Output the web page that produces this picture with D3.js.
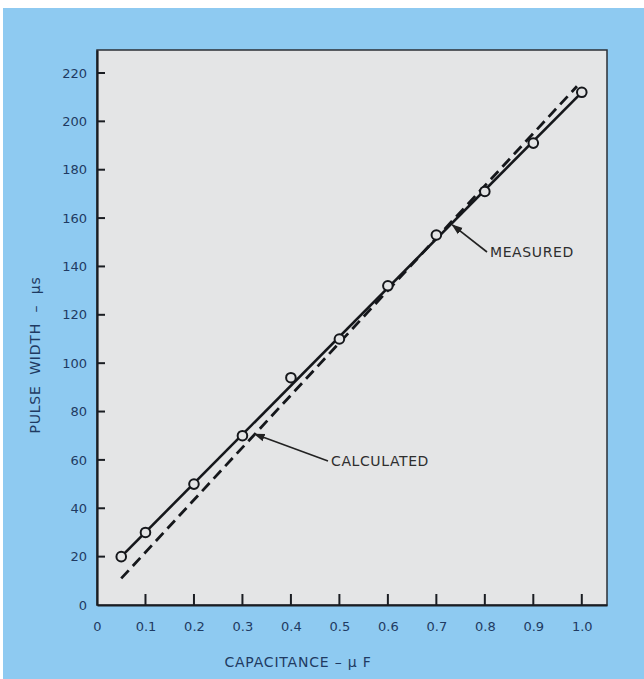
<!DOCTYPE html>
<html>
<head>
<meta charset="UTF-8">
<title>Pulse width vs capacitance</title>
<script src="https://d3js.org/d3.v7.min.js"></script>
<style>
  body { margin: 0; background: #fff; }
  svg { display: block; }
  .tick text { font-family: "DejaVu Sans", sans-serif; font-size: 13px; fill: #1f3a62; }
  .title { font-family: "DejaVu Sans", sans-serif; font-size: 14px; fill: #1f3a62; letter-spacing: 0.8px; white-space: pre; }
  .note { font-family: "DejaVu Sans", sans-serif; font-size: 14px; fill: #2e2e2e; letter-spacing: 0.6px; }
</style>
</head>
<body>
<script>
var width = 644, height = 679;

// measured points
var capMeasured = [0.05, 0.1, 0.2, 0.3, 0.4, 0.5, 0.6, 0.7, 0.8, 0.9, 1.0];
var pwMeasured  = [20, 30, 50, 70, 94, 110, 132, 153, 171, 191, 212];
// fitted lines
var measuredLine   = [[0.05, 20], [1.0, 212]];
var calculatedLine = [[0.05, 11], [0.99, 214.5]];

var xTicks = [0, 0.1, 0.2, 0.3, 0.4, 0.5, 0.6, 0.7, 0.8, 0.9, 1.0];
var xTickLabels = ["0", "0.1", "0.2", "0.3", "0.4", "0.5", "0.6", "0.7", "0.8", "0.9", "1.0"];
var yTicks = [0, 20, 40, 60, 80, 100, 120, 140, 160, 180, 200, 220];

var pLeft = 97, pRight = 607, pTop = 50, pBottom = 605;

var x = d3.scaleLinear().domain([0, 1.052]).range([pLeft, pRight]);
var y = d3.scaleLinear().domain([0, 229.5]).range([pBottom, pTop]);

var svg = d3.select('body').append('svg')
    .attr('width', width)
    .attr('height', height);

// blue mount
svg.append('rect')
    .attr('x', 3).attr('y', 8)
    .attr('width', width - 3).attr('height', height - 8)
    .attr('fill', '#8ecaf1');

// plot panel
svg.append('rect')
    .attr('x', pLeft).attr('y', pTop)
    .attr('width', pRight - pLeft).attr('height', pBottom - pTop)
    .attr('fill', '#e4e5e6')
    .attr('stroke', '#2b2f36')
    .attr('stroke-width', 1.5);

var xAxis = d3.axisBottom(x)
    .tickValues(xTicks)
    .tickSize(0)
    .tickPadding(17)
    .tickFormat(function (d, i) { return xTickLabels[i]; });

var gx = svg.append('g')
    .attr('transform', 'translate(0,' + pBottom + ')')
    .call(xAxis);
gx.select('.domain').attr('stroke', '#1a1d22').attr('stroke-width', 2.2);

// inward x ticks (none at 0)
svg.selectAll('.xt')
    .data(xTicks.slice(1))
    .enter().append('line')
    .attr('x1', d => x(d)).attr('x2', d => x(d))
    .attr('y1', pBottom).attr('y2', pBottom - 11)
    .attr('stroke', '#1a1d22').attr('stroke-width', 2);

var yAxis = d3.axisLeft(y)
    .tickValues(yTicks)
    .tickSize(0)
    .tickPadding(10);

var gy = svg.append('g')
    .attr('transform', 'translate(' + pLeft + ',0)')
    .call(yAxis);
gy.select('.domain').attr('stroke', '#1a1d22').attr('stroke-width', 2.2);

// inward y ticks
svg.selectAll('.yt')
    .data(yTicks.slice(1))
    .enter().append('line')
    .attr('x1', pLeft).attr('x2', pLeft + 8)
    .attr('y1', d => y(d)).attr('y2', d => y(d))
    .attr('stroke', '#1a1d22').attr('stroke-width', 2);

var line = d3.line().x(d => x(d[0])).y(d => y(d[1]));

svg.append('path')
    .datum(calculatedLine)
    .attr('d', line)
    .attr('fill', 'none')
    .attr('stroke', '#15171b')
    .attr('stroke-width', 2.8)
    .attr('stroke-dasharray', '11,6');

svg.append('path')
    .datum(measuredLine)
    .attr('d', line)
    .attr('fill', 'none')
    .attr('stroke', '#15171b')
    .attr('stroke-width', 2.6);

svg.selectAll('.pt')
    .data(capMeasured)
    .enter().append('circle')
    .attr('cx', d => x(d))
    .attr('cy', (d, i) => y(pwMeasured[i]))
    .attr('r', 4.8)
    .attr('fill', '#e4e5e6')
    .attr('stroke', '#15171b')
    .attr('stroke-width', 2);

// annotations
svg.append('defs').append('marker')
    .attr('id', 'arr')
    .attr('viewBox', '0 0 10 10')
    .attr('refX', 9).attr('refY', 5)
    .attr('markerWidth', 7).attr('markerHeight', 7)
    .attr('orient', 'auto')
    .append('path')
    .attr('d', 'M0,1.5 L10,5 L0,8.5 Z')
    .attr('fill', '#222');

function note(txt, tx, ty, ax, ay) {
    svg.append('line')
        .attr('x1', tx - 3).attr('y1', ty - 5)
        .attr('x2', ax).attr('y2', ay)
        .attr('stroke', '#222').attr('stroke-width', 1.6)
        .attr('marker-end', 'url(#arr)');
    svg.append('text')
        .attr('class', 'note')
        .attr('x', tx).attr('y', ty)
        .text(txt);
}
note('MEASURED', 490, 257, x(0.733), y(158) + 2);
note('CALCULATED', 331, 466, x(0.325), y(71.5) + 2);

svg.append('text')
    .attr('class', 'title')
    .attr('x', 298).attr('y', 667)
    .attr('text-anchor', 'middle')
    .text('CAPACITANCE – μ F');

svg.append('text')
    .attr('class', 'title')
    .attr('transform', 'translate(40,355) rotate(-90)')
    .attr('text-anchor', 'middle')
    .text('PULSE  WIDTH  –  μs');
</script>
</body>
</html>
